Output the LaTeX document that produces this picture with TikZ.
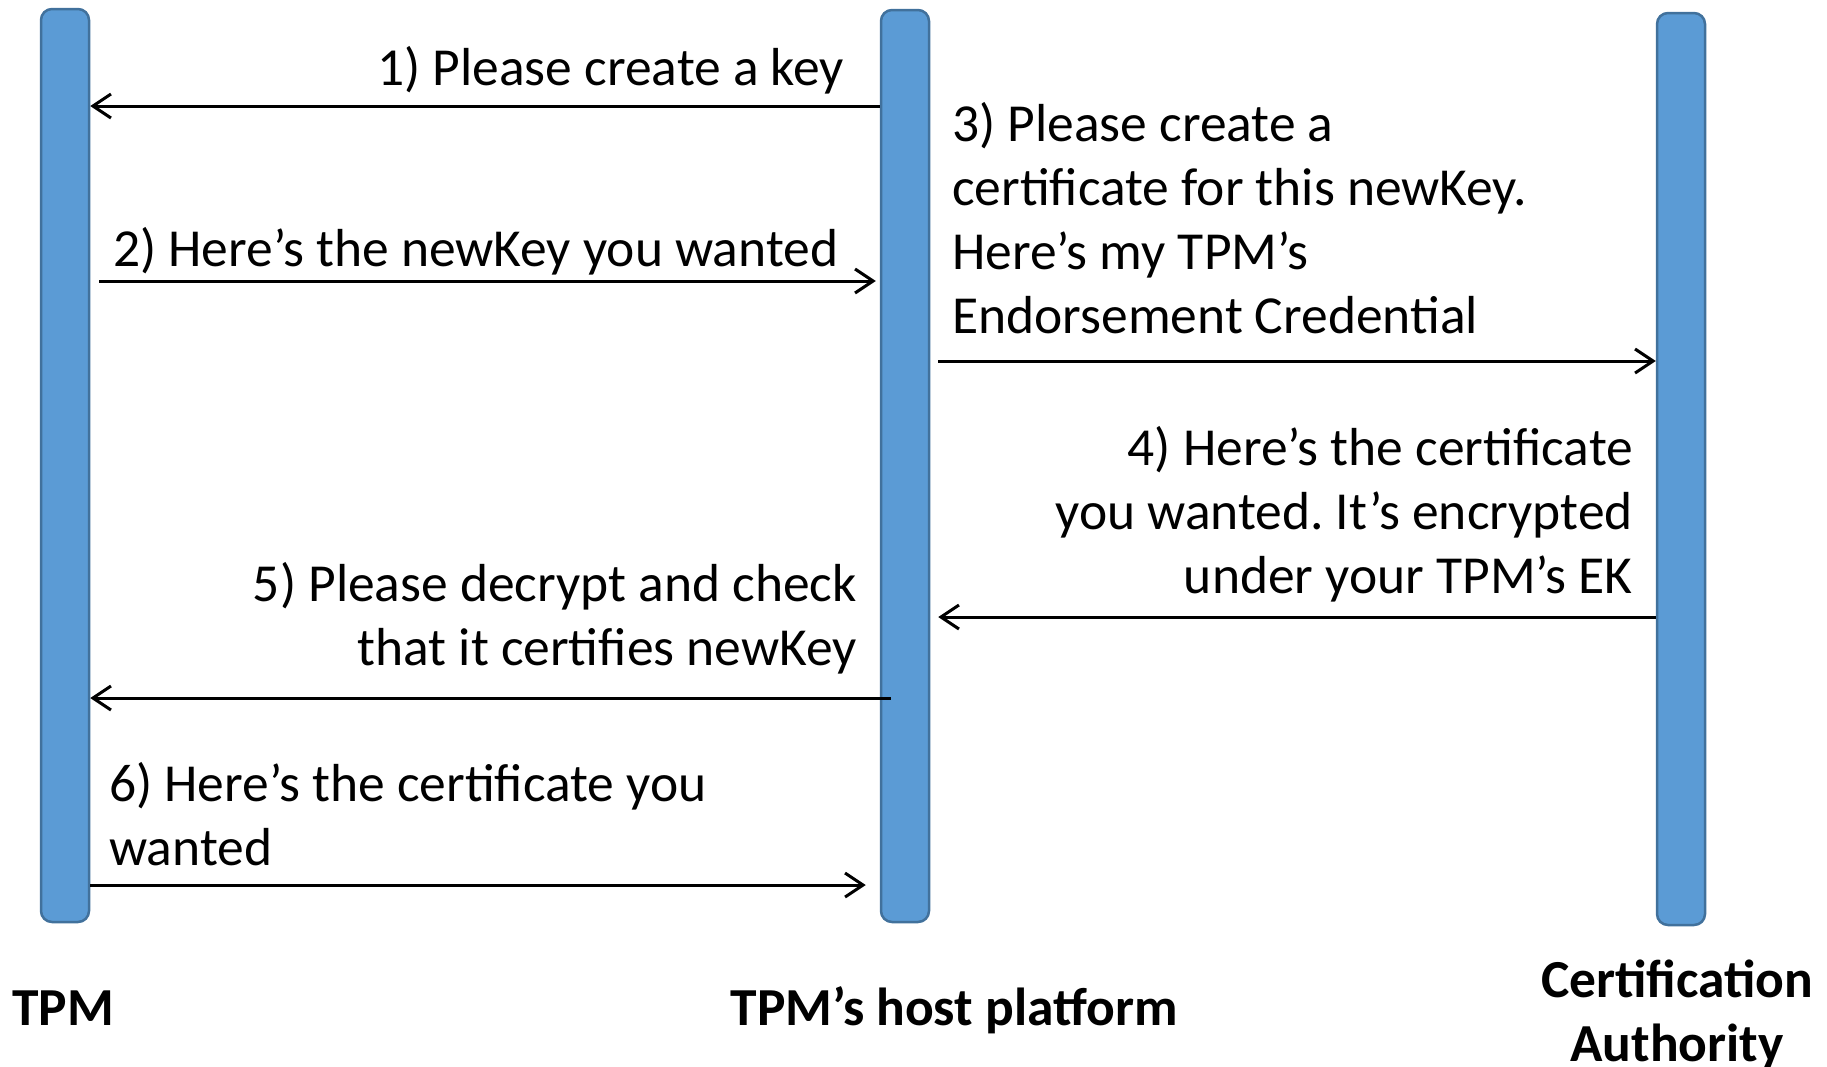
\documentclass[tikz,border=0pt]{standalone}
\usepackage{fontspec}
\setmainfont{Carlito}
\usetikzlibrary{arrows.meta}
\definecolor{barfill}{HTML}{5B9BD5}
\definecolor{barline}{HTML}{41719C}
\frenchspacing
\begin{document}
\begin{tikzpicture}[x=1pt,y=-1pt,
  lifeline/.style={draw=barline, line width=2.5pt, fill=barfill,
    rounded corners=11pt, minimum width=48pt, inner sep=0pt},
  msg/.style={line width=3pt, draw=black,
    -{Straight Barb[length=18pt,width=24pt]}},
  lbl/.style={font=\fontsize{53.5}{64}\selectfont, inner sep=0pt, text=black},
  actor/.style={font=\fontsize{53.5}{64}\selectfont\bfseries, inner sep=0pt,
    align=center, text=black}]
\useasboundingbox (0,0) rectangle (1827,1066);

% lifelines
\node[lifeline, minimum height=913pt] (tpm)  at (65,465.5) {};
\node[lifeline, minimum height=912pt] (host) at (905,466) {};
\node[lifeline, minimum height=912pt] (ca)   at (1681,469) {};

% messages
\draw[msg] (host.west |- 0,106) -- (tpm.east |- 0,106);
\draw[msg] ([xshift=9pt]tpm.east |- 0,281) -- ([xshift=-4pt]host.west |- 0,281);
\draw[msg] ([xshift=8pt]host.east |- 0,361) -- (ca.west |- 0,361);
\draw[msg] (ca.west |- 0,617) -- ([xshift=8pt]host.east |- 0,617);
\draw[msg] ([xshift=11pt]host.west |- 0,698) -- (tpm.east |- 0,698);
\draw[msg] (tpm.east |- 0,885) -- ([xshift=-14pt]host.west |- 0,885);

% message texts (multi-line nodes are placed by the baseline of their last line)
\node[lbl, anchor=base east] (t1) at (844,85) {1) Please create a key};
\node[lbl, anchor=base west] (t2) at (113,266) {2) Here’s the newKey you wanted};
\node[lbl, anchor=base west, align=left] (t3) at (952,333)
  {3) Please create a\\certificate for this newKey.\\Here’s my TPM’s\\Endorsement Credential};
\node[lbl, anchor=base east, align=right] (t4) at (1633,593)
  {4) Here’s the certificate\\you wanted. It’s encrypted\\under your TPM’s EK};
\node[lbl, anchor=base east, align=right] (t5) at (857,665)
  {5) Please decrypt and check\\that it certifies newKey};
\node[lbl, anchor=base west, align=left] (t6) at (109,865)
  {6) Here’s the certificate you\\wanted};

% participant names
\node[actor, anchor=base] (n1) at (63,1025) {TPM};
\node[actor, anchor=base] (n2) at (954,1025) {TPM’s host platform};
\node[actor, anchor=base] (n3) at (1677,1061) {Certification\\Authority};
\end{tikzpicture}
\end{document}
